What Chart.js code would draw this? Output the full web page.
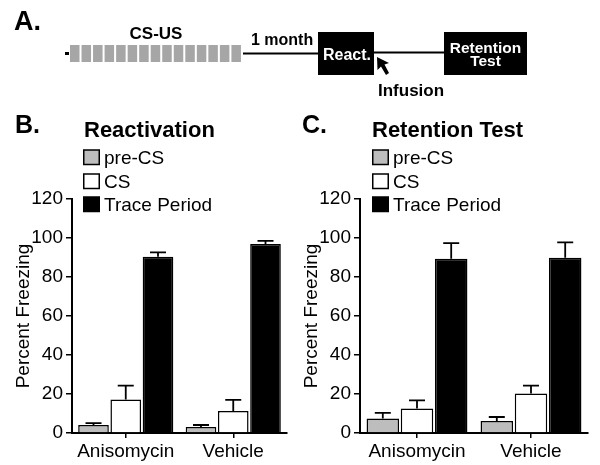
<!DOCTYPE html>
<html>
<head>
<meta charset="utf-8">
<script src="https://cdn.jsdelivr.net/npm/chart.js@4"></script>
<style>
  body { margin: 0; background: #fff; }
  #fig { position: relative; width: 600px; height: 465px; background: #fff; overflow: hidden; }
  #fig canvas { position: absolute; top: 150px; }
  #overlay { position: absolute; left: 0; top: 0; pointer-events: none; }
  text { font-family: "Liberation Sans", Arial, sans-serif; }
</style>
</head>
<body>
<div id="fig">
  <canvas id="chartB" width="300" height="315" style="left:0px"></canvas>
  <canvas id="chartC" width="300" height="315" style="left:300px"></canvas>
  <svg id="overlay" width="600" height="465" xmlns="http://www.w3.org/2000/svg"></svg>
</div>
<script>
// groups and series
var groups = ['Anisomycin', 'Vehicle'];
var seriesNames = ['pre-CS', 'CS', 'Trace Period'];
var seriesFill = ['#bdbdbd', '#ffffff', '#000000'];
var yTicks = [0, 20, 40, 60, 80, 100, 120];

// B. Reactivation (mean, SEM)
var reactPreCS = [4.1, 3.1];
var reactPreCSErr = [1.0, 1.0];
var reactCS = [17.2, 11.3];
var reactCSErr = [7.1, 5.7];
var reactTrace = [90.4, 96.9];
var reactTraceErr = [2.2, 1.6];

// C. Retention Test (mean, SEM)
var retPreCS = [7.5, 6.2];
var retPreCSErr = [2.8, 2.0];
var retCS = [12.6, 20.2];
var retCSErr = [4.1, 4.1];
var retTrace = [89.4, 89.9];
var retTraceErr = [8.0, 7.9];

var FONT = '"Liberation Sans", Arial, sans-serif';

// error bars, upward only
var errorBars = {
  id: 'errorBars',
  afterDatasetsDraw: function(chart) {
    var ctx = chart.ctx;
    var y = chart.scales.y;
    chart.data.datasets.forEach(function(ds, i) {
      var meta = chart.getDatasetMeta(i);
      meta.data.forEach(function(bar, j) {
        var top = y.getPixelForValue(ds.data[j] + ds.err[j]);
        ctx.save();
        ctx.strokeStyle = '#000';
        ctx.lineWidth = 1.8;
        ctx.beginPath();
        ctx.moveTo(bar.x, bar.y);
        ctx.lineTo(bar.x, top);
        ctx.moveTo(bar.x - 8, top);
        ctx.lineTo(bar.x + 8, top);
        ctx.stroke();
        ctx.restore();
      });
    });
  }
};

function makeChart(id, means, errs, axisW, titlePad, padRight) {
  var datasets = seriesNames.map(function(name, i) {
    return {
      label: name,
      data: means[i],
      err: errs[i],
      backgroundColor: seriesFill[i],
      borderColor: '#000',
      borderWidth: 1.5,
      categoryPercentage: 0.9,
      barPercentage: 0.95
    };
  });
  return new Chart(document.getElementById(id), {
    type: 'bar',
    data: { labels: groups, datasets: datasets },
    options: {
      responsive: false,
      animation: false,
      layout: { padding: { left: 0, right: padRight, top: 49, bottom: 0 } },
      plugins: { legend: { display: false }, tooltip: { enabled: false } },
      scales: {
        x: {
          grid: { display: true, drawOnChartArea: false, offset: false, tickLength: 5, color: '#000', lineWidth: 1.5 },
          border: { color: '#000', width: 2 },
          ticks: { color: '#000', font: { family: FONT, size: 19 }, padding: 2 },
          afterFit: function(s) { s.height = 32; }
        },
        y: {
          min: 0,
          max: 120,
          afterBuildTicks: function(s) { s.ticks = yTicks.map(function(v) { return { value: v }; }); },
          grid: { drawOnChartArea: false, tickLength: 6, color: '#000', lineWidth: 1.5 },
          border: { color: '#000', width: 2 },
          ticks: { color: '#000', font: { family: FONT, size: 19 }, padding: 3 },
          title: { display: true, text: 'Percent Freezing', color: '#000', font: { family: FONT, size: 19 }, padding: { top: titlePad, bottom: 0 } },
          afterFit: function(s) { s.width = axisW; }
        }
      }
    },
    plugins: [errorBars]
  });
}

makeChart('chartB', [reactPreCS, reactCS, reactTrace], [reactPreCSErr, reactCSErr, reactTraceErr], 72, 12, 13);
makeChart('chartC', [retPreCS, retCS, retTrace], [retPreCSErr, retCSErr, retTraceErr], 60, 0, 12);

// overlay: panel A diagram, panel letters, titles, legends
var svg = document.getElementById('overlay');
var NS = 'http://www.w3.org/2000/svg';
function el(tag, attrs, txt) {
  var e = document.createElementNS(NS, tag);
  for (var k in attrs) e.setAttribute(k, attrs[k]);
  if (txt != null) e.textContent = txt;
  svg.appendChild(e);
  return e;
}

// A.
el('text', { x: 14, y: 30, 'font-size': 27, 'font-weight': 'bold' }, 'A.');
el('text', { x: 156, y: 39, 'font-size': 17, 'font-weight': 'bold', 'text-anchor': 'middle' }, 'CS-US');
el('rect', { x: 65, y: 52, width: 4, height: 3, fill: '#000' });
for (var b = 0; b < 15; b++) {
  el('rect', { x: 70 + b * 11.53, y: 45, width: 9.5, height: 17, fill: '#a6a6a6' });
}
el('line', { x1: 243, y1: 53.5, x2: 318, y2: 53.5, stroke: '#000', 'stroke-width': 2.2 });
el('text', { x: 251, y: 45, 'font-size': 16, 'font-weight': 'bold' }, '1 month');
el('rect', { x: 318, y: 32, width: 56, height: 43, fill: '#000' });
el('text', { x: 347, y: 60, 'font-size': 16, 'font-weight': 'bold', 'text-anchor': 'middle', fill: '#fff' }, 'React.');
el('line', { x1: 374, y1: 52.5, x2: 444, y2: 52.5, stroke: '#000', 'stroke-width': 2.2 });
el('rect', { x: 444, y: 32, width: 83, height: 43, fill: '#000' });
el('text', { x: 485.5, y: 53, 'font-size': 15.5, 'font-weight': 'bold', 'text-anchor': 'middle', fill: '#fff' }, 'Retention');
el('text', { x: 485.5, y: 66, 'font-size': 15.5, 'font-weight': 'bold', 'text-anchor': 'middle', fill: '#fff' }, 'Test');
el('polygon', { points: '377,57 377.5,70 381,66.5 386,75 389,73 384.5,64.5 389,63', fill: '#000' });
el('text', { x: 378, y: 96, 'font-size': 17, 'font-weight': 'bold' }, 'Infusion');

// B. and C. headings + legends
function panelHead(x0, letter, title, titleX, boxX) {
  el('text', { x: x0, y: 133, 'font-size': 25, 'font-weight': 'bold' }, letter);
  el('text', { x: titleX, y: 137, 'font-size': 22, 'font-weight': 'bold' }, title);
  var rowY = [157, 181, 204];
  seriesNames.forEach(function(name, i) {
    el('rect', { x: boxX + 0.75, y: rowY[i] - 7, width: 15.5, height: 14.5, fill: seriesFill[i], stroke: '#000', 'stroke-width': 1.5 });
    el('text', { x: boxX + 21, y: rowY[i] + 7, 'font-size': 19 }, name);
  });
}
panelHead(15, 'B.', 'Reactivation', 84, 83);
panelHead(302, 'C.', 'Retention Test', 372, 372);
</script>
</body>
</html>
